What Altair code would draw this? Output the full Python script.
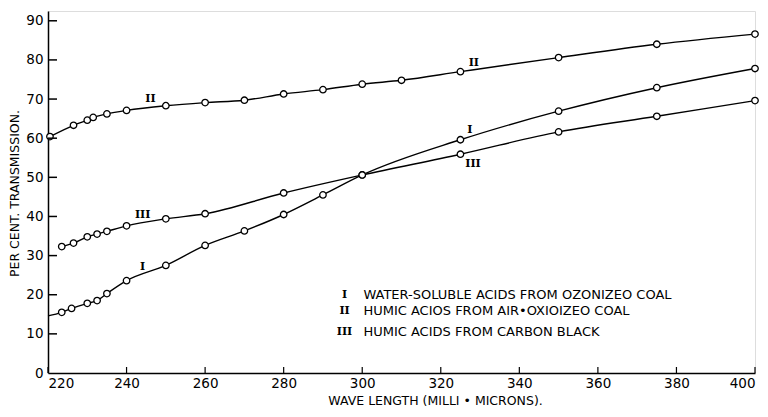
import altair as alt
import pandas as pd

# Curve I: water-soluble acids from ozonized coal
wl_I = [220, 223.5, 226, 230, 232.5, 235, 240, 250, 260, 270, 280, 290, 300, 325, 350, 375, 400]
t_I = [14.6, 15.5, 16.5, 17.8, 18.5, 20.3, 23.6, 27.5, 32.6, 36.3, 40.5, 45.5, 50.6, 59.6, 66.9, 72.9, 77.8]
mark_I = [False] + [True] * 16

# Curve II: humic acids from air-oxidized coal
wl_II = [220.5, 226.5, 230, 231.5, 235, 240, 250, 260, 270, 280, 290, 300, 310, 325, 350, 375, 400]
t_II = [60.4, 63.3, 64.6, 65.3, 66.2, 67.1, 68.3, 69.1, 69.7, 71.3, 72.4, 73.8, 74.8, 77.0, 80.6, 84.0, 86.6]
mark_II = [True] * 17

# Curve III: humic acids from carbon black
wl_III = [223.5, 226.5, 230, 232.5, 235, 240, 250, 260, 280, 300, 325, 350, 375, 400]
t_III = [32.3, 33.2, 34.8, 35.5, 36.2, 37.6, 39.4, 40.7, 46.0, 50.6, 55.9, 61.6, 65.6, 69.6]
mark_III = [True] * 14

# Curve labels (roman numerals) placed in data space
lab_text = ["II", "II", "III", "I", "I", "III"]
lab_wl = [246.1, 328.4, 244.1, 244.1, 327.4, 328.2]
lab_t = [69.9, 79.2, 40.4, 27.1, 62.2, 53.4]

# Legend
leg_num = ["I", "II", "III"]
leg_text = ["WATER-SOLUBLE ACIDS FROM OZONIZEO COAL",
            "HUMIC ACIOS FROM AIR•OXIOIZEO COAL",
            "HUMIC ACIDS FROM  CARBON BLACK"]
leg_t = [20.0, 15.8, 10.5]
leg_num_wl = 295.5
leg_text_wl = 300.3

x_ticks = [220, 240, 260, 280, 300, 320, 340, 360, 380, 400]
y_ticks = [0, 10, 20, 30, 40, 50, 60, 70, 80, 90]

rows = []
for name, ws, ts, ms in [("I", wl_I, t_I, mark_I), ("II", wl_II, t_II, mark_II), ("III", wl_III, t_III, mark_III)]:
    for w, t, m in zip(ws, ts, ms):
        rows.append({"curve": name, "wl": w, "t": t, "marked": m})
df = pd.DataFrame(rows)

labels_df = pd.DataFrame({"text": lab_text, "wl": lab_wl, "t": lab_t})
legend_df = pd.DataFrame({"num": leg_num, "text": leg_text, "t": leg_t,
                          "wn": [leg_num_wl] * 3, "wt": [leg_text_wl] * 3})
xt_df = pd.DataFrame({"v": x_ticks})
yt_df = pd.DataFrame({"v": y_ticks[1:]})

W, H = 707, 362
FONT = "DejaVu Sans"

xs = alt.Scale(domain=[220, 400], nice=False, zero=False)
ys = alt.Scale(domain=[0, 92.5], nice=False, zero=False)

x_axis = alt.Axis(values=x_ticks, ticks=False, domainColor="black", domainWidth=1.5,
                  labelFont=FONT, labelFontSize=13.5, labelColor="black", labelPadding=3,
                  grid=False, title="WAVE LENGTH (MILLI • MICRONS).", titleFont=FONT,
                  titleFontSize=12.5, titleFontWeight="normal", titleColor="black",
                  titleX=387, titleY=31, titleAlign="center", titleBaseline="alphabetic")
y_axis = alt.Axis(values=y_ticks, ticks=False, domainColor="black", domainWidth=1.5,
                  labelFont=FONT, labelFontSize=13.5, labelColor="black", labelPadding=5,
                  grid=False, title="PER CENT. TRANSMISSION.", titleFont=FONT,
                  titleFontSize=12.5, titleFontWeight="normal", titleColor="black",
                  titleX=-34, titleY=182, titleAngle=270, titleAlign="center",
                  titleBaseline="middle")

base = alt.Chart(df)
lines = base.mark_line(color="black", strokeWidth=1.4, interpolate="monotone").encode(
    x=alt.X("wl:Q", scale=xs, axis=x_axis),
    y=alt.Y("t:Q", scale=ys, axis=y_axis),
    detail="curve:N",
)
points = base.transform_filter("datum.marked").mark_point(
    shape="circle", size=42, filled=True, fill="white", stroke="black", strokeWidth=1.3, opacity=1
).encode(x=alt.X("wl:Q", scale=xs), y=alt.Y("t:Q", scale=ys))

ytick = alt.Chart(yt_df).mark_rule(color="black", strokeWidth=1.5).encode(
    y=alt.Y("v:Q", scale=ys), x=alt.value(0), x2=alt.value(9))
xtick = alt.Chart(xt_df).mark_rule(color="black", strokeWidth=1.2).encode(
    x=alt.X("v:Q", scale=xs), y=alt.value(H), y2=alt.value(H - 6))

curve_labels = alt.Chart(labels_df).mark_text(
    font="DejaVu Serif", fontSize=11, fontWeight="bold", color="black"
).encode(x=alt.X("wl:Q", scale=xs), y=alt.Y("t:Q", scale=ys), text="text:N")

leg_nums = alt.Chart(legend_df).mark_text(
    font="DejaVu Serif", fontSize=11, fontWeight="bold", color="black", align="center"
).encode(x=alt.X("wn:Q", scale=xs), y=alt.Y("t:Q", scale=ys), text="num:N")
leg_texts = alt.Chart(legend_df).mark_text(
    font=FONT, fontSize=13, color="black", align="left"
).encode(x=alt.X("wt:Q", scale=xs), y=alt.Y("t:Q", scale=ys), text="text:N")

chart = alt.layer(lines, points, ytick, xtick, curve_labels, leg_nums, leg_texts).properties(
    width=W, height=H,
    autosize=alt.AutoSizeParams(type="none"),
    padding={"left": 40, "top": 3, "right": 5, "bottom": 36},
).configure_view(stroke=None).configure(background="white")

chart.save("out.html", embed_options={"renderer": "svg", "actions": False})
